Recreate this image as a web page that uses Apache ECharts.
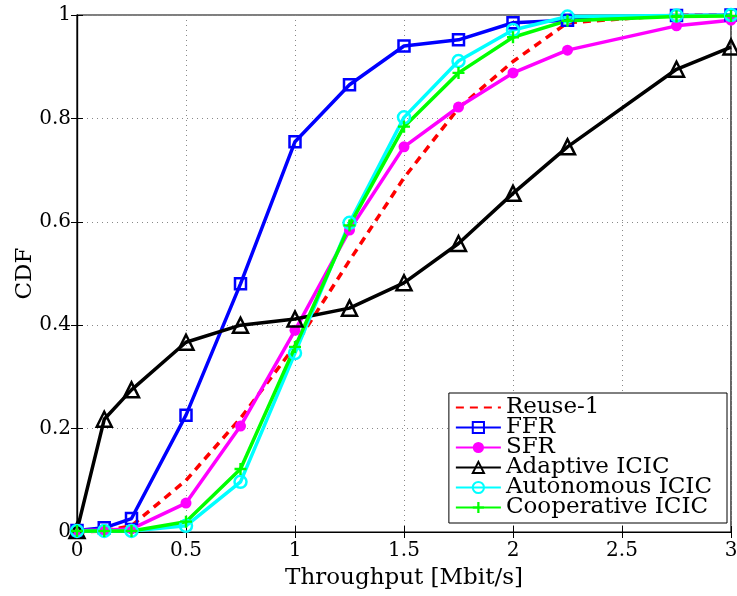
<!DOCTYPE html>
<html>
<head>
<meta charset="utf-8">
<script src="https://cdn.jsdelivr.net/npm/echarts@6/dist/echarts.min.js"></script>
<style>
  html, body { margin: 0; padding: 0; background: #fff; }
  #chart { width: 737px; height: 596px; }
</style>
</head>
<body>
<div id="chart"></div>
<script>
// throughput sample points [Mbit/s]
const throughput = [0, 0.125, 0.25, 0.5, 0.75, 1, 1.25, 1.5, 1.75, 2, 2.25, 2.75, 3];

const reuse1      = [0, 0.002, 0.012, 0.1, 0.22, 0.36, 0.525, 0.685, 0.82, 0.91, 0.985, 1.0, 1.0];
const ffr         = [0.003, 0.008, 0.026, 0.226, 0.48, 0.755, 0.865, 0.94, 0.952, 0.985, 0.99, 0.999, 1.0];
const sfr         = [0.003, 0.004, 0.006, 0.056, 0.205, 0.39, 0.584, 0.745, 0.822, 0.888, 0.932, 0.979, 0.99];
const adaptive    = [0.003, 0.218, 0.275, 0.367, 0.4, 0.412, 0.433, 0.482, 0.558, 0.655, 0.745, 0.895, 0.938];
const autonomous  = [0.002, 0.002, 0.002, 0.012, 0.097, 0.346, 0.598, 0.802, 0.911, 0.971, 0.997, 0.999, 1.0];
const cooperative = [0.002, 0.002, 0.002, 0.02, 0.122, 0.358, 0.593, 0.784, 0.888, 0.957, 0.989, 0.997, 0.998];

const xTicks = [0, 0.5, 1, 1.5, 2, 2.5, 3];
const yTicks = [0, 0.2, 0.4, 0.6, 0.8, 1];

const font = '"DejaVu Serif", "Liberation Serif", serif';
const plusPath = 'path://M4,0H6V4H10V6H6V10H4V6H0V4H4Z';

function pairs(ys) {
  return throughput.map((x, i) => [x, ys[i]]);
}

function makeSeries(name, ys, color, symbol, size, filled, dashed) {
  return {
    name: name,
    type: 'line',
    data: pairs(ys),
    symbol: symbol,
    symbolSize: size,
    showSymbol: symbol !== 'none',
    lineStyle: { color: color, width: 3.5, type: dashed ? [8, 6] : 'solid' },
    itemStyle: {
      color: filled ? color : 'rgba(255,255,255,0)',
      borderColor: color,
      borderWidth: filled ? 0 : 2.5
    },
    emphasis: { disabled: true },
    animation: false,
    z: 3
  };
}

const chart = echarts.init(document.getElementById('chart'));

const option = {
  backgroundColor: '#fff',
  animation: false,
  grid: {
    left: 77, right: 6, top: 15, bottom: 64,
    outerBoundsMode: 'none', containLabel: false,
    show: true, borderColor: '#000', borderWidth: 1.2
  },
  legend: {
    orient: 'vertical',
    right: 10,
    bottom: 73,
    backgroundColor: '#fff',
    borderColor: '#000',
    borderWidth: 1,
    borderRadius: 0,
    padding: [3, 15, 4, 6],
    itemWidth: 45,
    itemHeight: 14,
    itemGap: -3,
    textStyle: { fontFamily: font, fontSize: 23, lineHeight: 20, color: '#000' },
    data: [
      { name: 'Reuse-1', itemStyle: { color: 'rgba(0,0,0,0)', borderWidth: 0, opacity: 0 } },
      'FFR', 'SFR', 'Adaptive ICIC', 'Autonomous ICIC', 'Cooperative ICIC'
    ]
  },
  xAxis: [{
    type: 'value',
    min: 0, max: 3, interval: 0.5,
    name: 'Throughput [Mbit/s]',
    nameLocation: 'middle',
    nameGap: 35,
    nameMoveOverlap: false,
    nameTextStyle: { fontFamily: font, fontSize: 23, color: '#000' },
    axisLine: { lineStyle: { color: '#000', width: 1.2 } },
    axisTick: { inside: true, length: 6, lineStyle: { color: '#000' } },
    axisLabel: {
      fontFamily: font, fontSize: 20, color: '#000', margin: 9,
      formatter: v => xTicks.includes(v) ? String(v) : ''
    },
    splitLine: { show: true, lineStyle: { color: '#888', type: [1, 4], width: 1 } }
  }, {
    type: 'value', position: 'top', min: 0, max: 3, interval: 0.5,
    axisLine: { lineStyle: { color: '#000', width: 1.2 } },
    axisTick: { inside: true, length: 6, lineStyle: { color: '#000' } },
    axisLabel: { show: false },
    splitLine: { show: false }
  }],
  yAxis: [{
    type: 'value',
    min: 0, max: 1, interval: 0.2,
    name: 'CDF',
    nameLocation: 'middle',
    nameGap: 40,
    nameMoveOverlap: false,
    nameTextStyle: { fontFamily: font, fontSize: 23, color: '#000' },
    axisLine: { show: true, lineStyle: { color: '#000', width: 1.2 } },
    axisTick: { show: true, inside: true, length: 6, lineStyle: { color: '#000' } },
    axisLabel: {
      fontFamily: font, fontSize: 20, color: '#000', margin: 6,
      formatter: v => yTicks.some(t => Math.abs(t - v) < 1e-9) ? String(+v.toFixed(1)) : ''
    },
    splitLine: { show: true, lineStyle: { color: '#888', type: [1, 4], width: 1 } }
  }, {
    type: 'value', position: 'right', min: 0, max: 1, interval: 0.2,
    axisLine: { show: true, lineStyle: { color: '#000', width: 1.2 } },
    axisTick: { show: true, inside: true, length: 6, lineStyle: { color: '#000' } },
    axisLabel: { show: false },
    splitLine: { show: false }
  }],
  series: [
    makeSeries('Reuse-1', reuse1, '#ff0000', 'none', 0, true, true),
    makeSeries('FFR', ffr, '#0000ff', 'rect', 11, false, false),
    makeSeries('SFR', sfr, '#ff00ff', 'circle', 11, true, false),
    makeSeries('Adaptive ICIC', adaptive, '#000000', 'triangle', 15, false, false),
    makeSeries('Autonomous ICIC', autonomous, '#00ffff', 'circle', 12, false, false),
    makeSeries('Cooperative ICIC', cooperative, '#00ff00', plusPath, 12, true, false)
  ]
};

chart.setOption(option);
</script>
</body>
</html>
